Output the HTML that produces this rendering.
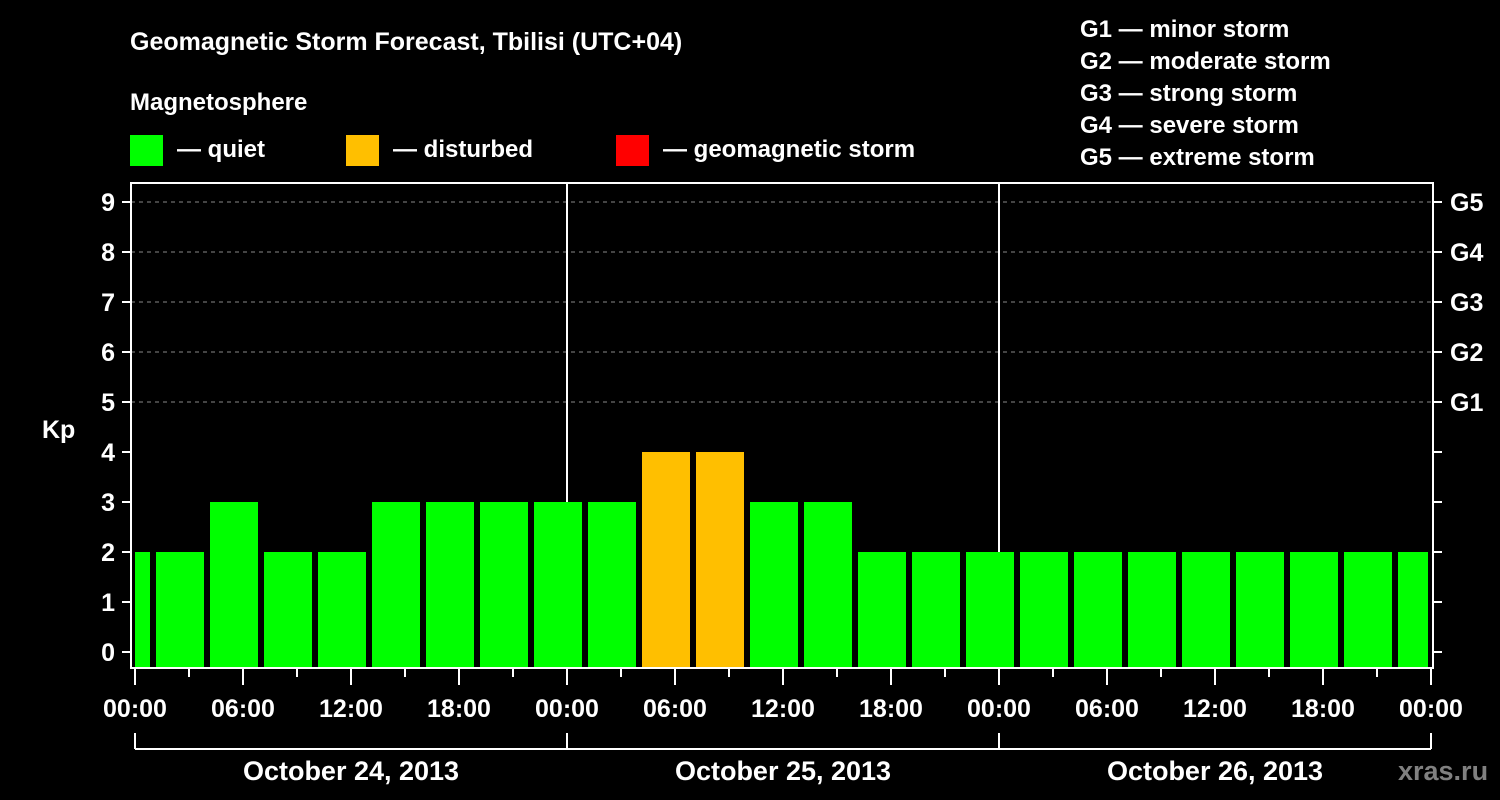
<!DOCTYPE html>
<html><head><meta charset="utf-8"><style>
html,body{margin:0;padding:0;background:#000;}
svg{display:block;font-family:"Liberation Sans",Arial,sans-serif;font-weight:bold;}
</style></head><body>
<svg id="c" width="1500" height="800">
<text x="130" y="50" fill="#fff" font-size="25">Geomagnetic Storm Forecast, Tbilisi (UTC+04)</text>
<text x="130" y="110" fill="#fff" font-size="24">Magnetosphere</text>
<g><rect x="130" y="135" width="33" height="31" fill="#00ff00"/><text x="177" y="157" fill="#fff" font-size="24">— quiet</text></g>
<g><rect x="346" y="135" width="33" height="31" fill="#ffbf00"/><text x="393" y="157" fill="#fff" font-size="24">— disturbed</text></g>
<g><rect x="616" y="135" width="33" height="31" fill="#ff0000"/><text x="663" y="157" fill="#fff" font-size="24">— geomagnetic storm</text></g>
<g fill="#fff" font-size="24">
<text x="1080" y="37">G1 — minor storm</text><text x="1080" y="69">G2 — moderate storm</text><text x="1080" y="101">G3 — strong storm</text><text x="1080" y="133">G4 — severe storm</text><text x="1080" y="165">G5 — extreme storm</text>
</g>
<text x="42" y="438" fill="#fff" font-size="25">Kp</text>
<text x="1398" y="780" fill="#808080" font-size="27">xras.ru</text>
<g id="grid"></g><g id="bars"></g><g id="axes"></g>
</svg>
<script>
const kpValues=[2,2,3,2,2,3,3,3,3,3,4,4,3,3,2,2,2,2,2,2,2,2,2,2,2];
const yTicks=[0,1,2,3,4,5,6,7,8,9];
const gLabels=["G1","G2","G3","G4","G5"];
const hourLabels=["00:00","06:00","12:00","18:00"];
const dayLabels=["October 24, 2013","October 25, 2013","October 26, 2013"];
const NS="http://www.w3.org/2000/svg";
const X0=135,PXH=18,Y0=652,PXU=50,LEFT=131,RIGHT=1433,TOP=183,BOT=668;
function x(h){return X0+h*PXH;}
function y(v){return Y0-v*PXU;}
function mk(t,a,p){const e=document.createElementNS(NS,t);for(const k in a)e.setAttribute(k,a[k]);p.appendChild(e);return e;}
const grid=document.getElementById('grid'),bars=document.getElementById('bars'),axes=document.getElementById('axes');
for(let v=5;v<=9;v++){const l=mk('line',{x1:LEFT,x2:RIGHT,y1:y(v),y2:y(v),stroke:'#888','stroke-dasharray':'4,4','stroke-width':1},grid);

}
for(let d=1;d<3;d++){const l=mk('line',{x1:x(d*24),x2:x(d*24),y1:TOP,y2:BOT,stroke:'#fff','stroke-width':2},grid);

}
kpValues.forEach((v,i)=>{const h=-2+3*i;let a=Math.max(x(h)+3,X0),b=Math.min(x(h+3)-3,1428);
const col=v>=5?'#ff0000':(v>=4?'#ffbf00':'#00ff00');
const r=mk('rect',{x:a,y:y(v),width:b-a,height:BOT-y(v),fill:col},bars);

});
mk('rect',{x:LEFT,y:TOP,width:RIGHT-LEFT,height:BOT-TOP,fill:'none',stroke:'#fff','stroke-width':2},axes);
yTicks.forEach(v=>{mk('line',{x1:122,x2:LEFT,y1:y(v),y2:y(v),stroke:'#fff','stroke-width':2},axes);
mk('line',{x1:RIGHT,x2:1442,y1:y(v),y2:y(v),stroke:'#fff','stroke-width':2},axes);
const t=mk('text',{x:115,y:y(v)+9,fill:'#fff','font-size':25,'text-anchor':'end'},axes);t.textContent=v;

});
gLabels.forEach((g,i)=>{const t=mk('text',{x:1450,y:y(5+i)+9,fill:'#fff','font-size':25},axes);t.textContent=g;

});
for(let h=0;h<=72;h+=3){const major=h%6==0;mk('line',{x1:x(h),x2:x(h),y1:BOT,y2:major?685:677,stroke:'#fff','stroke-width':2},axes);
if(major){const t=mk('text',{x:x(h),y:717,fill:'#fff','font-size':25,'text-anchor':'middle'},axes);t.textContent=hourLabels[(h/6)%4];

}}
mk('line',{x1:x(0),x2:x(72),y1:749,y2:749,stroke:'#fff','stroke-width':2},axes);
for(let d=0;d<=3;d++)mk('line',{x1:x(d*24),x2:x(d*24),y1:733,y2:749,stroke:'#fff','stroke-width':2},axes);
dayLabels.forEach((s,d)=>{const t=mk('text',{x:x(d*24+12),y:780,fill:'#fff','font-size':27,'text-anchor':'middle'},axes);t.textContent=s;

});
</script>
</body></html>
